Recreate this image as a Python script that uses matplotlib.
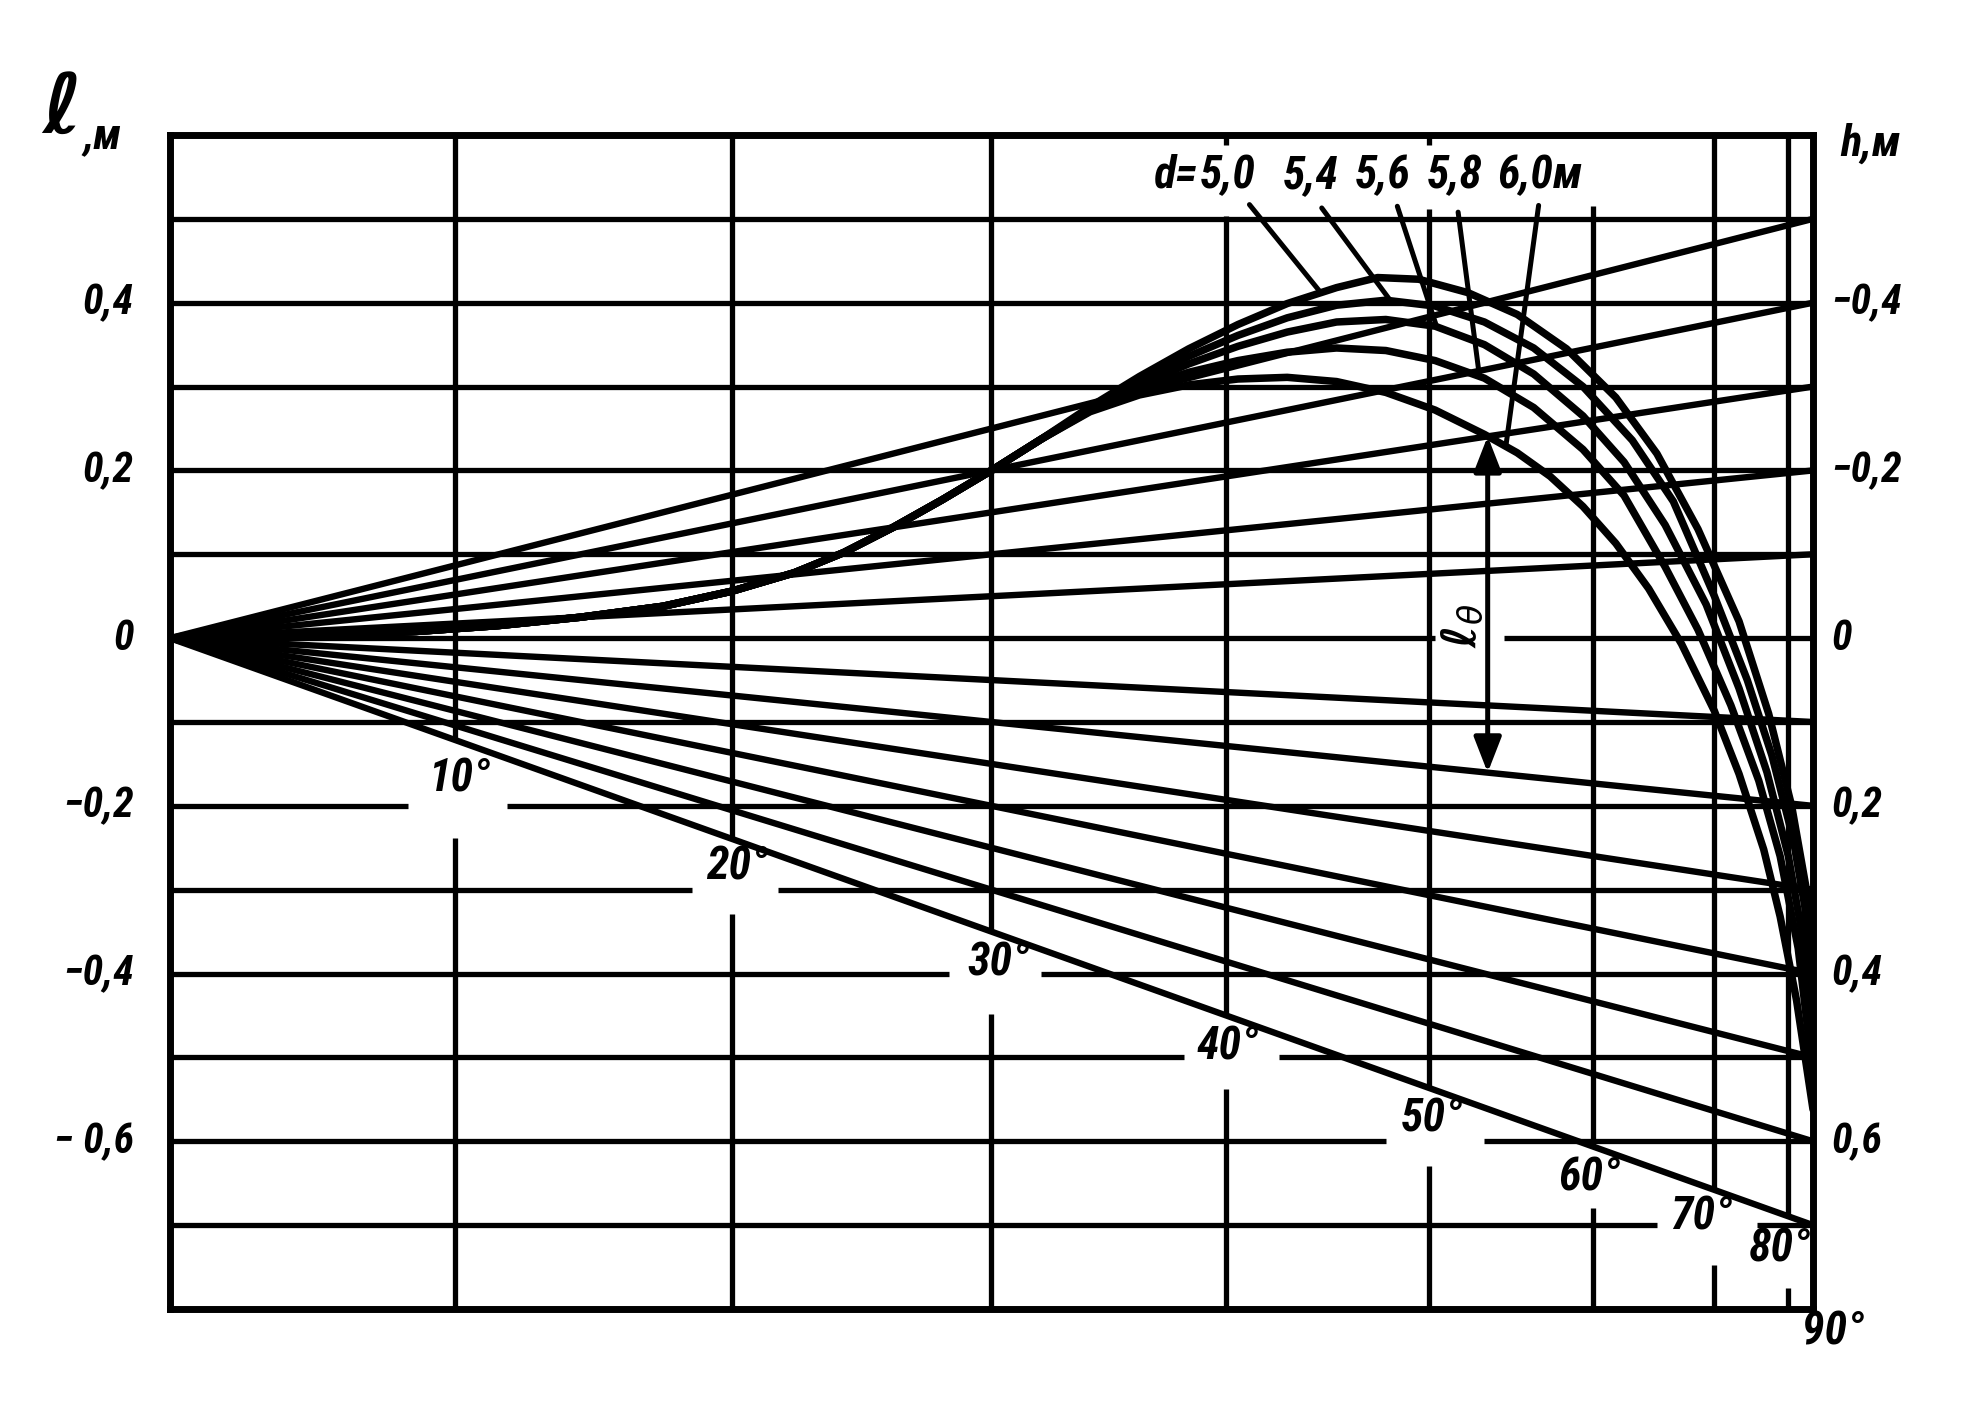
import numpy as np
import matplotlib
matplotlib.use("Agg")
import matplotlib.pyplot as plt
from matplotlib import font_manager
import matplotlib.transforms as mtransforms

# ---------------- data ----------------
# x axis is sin(theta); angle scale ticks
angle_ticks = [10, 20, 30, 40, 50, 60, 70, 80]
angle_labels = ['10°', '20°', '30°', '40°', '50°', '60°', '70°', '80°', '90°']

# left axis l, m  /  right axis h, m  (h = -l on the right edge)
l_ticks = [0.4, 0.2, 0.0, -0.2, -0.4, -0.6]
l_tick_labels = ['0,4', '0,2', '0', '−0,2', '−0,4', '− 0,6']
h_ticks = [-0.4, -0.2, 0.0, 0.2, 0.4, 0.6]
h_tick_labels = ['−0,4', '−0,2', '0', '0,2', '0,4', '0,6']
l_grid = [-0.7, -0.6, -0.5, -0.4, -0.3, -0.2, -0.1, 0.0, 0.1, 0.2, 0.3, 0.4, 0.5]

# straight rays from the origin, value of h reached at 90 deg
ray_h = [-0.5, -0.4, -0.3, -0.2, -0.1, 0.1, 0.2, 0.3, 0.4, 0.5, 0.6, 0.7]

# common rising part of all d-curves (x = sin theta, y = l)
rise_s = [0.0, 0.05, 0.10, 0.15, 0.20, 0.25, 0.30, 0.342, 0.38, 0.41, 0.44, 0.47, 0.50, 0.53]
rise_l = [0.0, 0.001, 0.004, 0.008, 0.015, 0.025, 0.038, 0.056, 0.078, 0.102, 0.132, 0.165,
          0.200, 0.237]

d_labels = ['5,0', '5,4', '5,6', '5,8', '6,0м']

s_d50 = [0.56, 0.59, 0.62, 0.65, 0.68, 0.71, 0.735, 0.76, 0.79, 0.82, 0.85, 0.88, 0.905,
         0.93, 0.955, 0.973, 0.987, 0.996, 1.0]
l_d50 = [0.276, 0.312, 0.345, 0.374, 0.399, 0.418, 0.43, 0.428, 0.412, 0.386, 0.345, 0.287, 0.22,
         0.13, 0.02, -0.09, -0.20, -0.30, -0.36]

s_d54 = [0.56, 0.59, 0.62, 0.65, 0.68, 0.71, 0.74, 0.77, 0.80, 0.83, 0.86, 0.89, 0.915,
         0.94, 0.96, 0.975, 0.988, 0.995, 1.0]
l_d54 = [0.274, 0.308, 0.336, 0.361, 0.382, 0.397, 0.403, 0.396, 0.377, 0.346, 0.30, 0.236, 0.163,
         0.05, -0.05, -0.14, -0.24, -0.32, -0.42]

s_d56 = [0.56, 0.59, 0.62, 0.65, 0.68, 0.71, 0.74, 0.77, 0.80, 0.83, 0.86, 0.885, 0.91,
         0.935, 0.955, 0.972, 0.985, 0.994, 1.0]
l_d56 = [0.272, 0.302, 0.327, 0.348, 0.365, 0.377, 0.38, 0.372, 0.35, 0.315, 0.265, 0.21, 0.135,
         0.04, -0.06, -0.16, -0.26, -0.36, -0.48]

s_d58 = [0.56, 0.59, 0.62, 0.65, 0.68, 0.71, 0.74, 0.77, 0.80, 0.83, 0.86, 0.885, 0.91,
         0.93, 0.95, 0.967, 0.98, 0.991, 1.0]
l_d58 = [0.271, 0.298, 0.317, 0.331, 0.341, 0.346, 0.343, 0.331, 0.31, 0.275, 0.225, 0.17, 0.085,
         0.01, -0.08, -0.17, -0.26, -0.37, -0.52]

s_d60 = [0.56, 0.59, 0.62, 0.65, 0.68, 0.71, 0.74, 0.77, 0.80, 0.82, 0.84, 0.86, 0.88,
         0.90, 0.92, 0.94, 0.955, 0.97, 0.98, 0.99, 1.0]
l_d60 = [0.270, 0.290, 0.302, 0.309, 0.311, 0.306, 0.293, 0.272, 0.243, 0.221, 0.193, 0.157,
         0.113, 0.059, -0.007, -0.087, -0.162, -0.252, -0.332, -0.432, -0.562]

# leader lines from the d-labels to the curves
leader_s0 = [0.657, 0.701, 0.747, 0.784, 0.833]
leader_l0 = [0.517, 0.513, 0.515, 0.508, 0.516]
leader_s1 = [0.700, 0.743, 0.771, 0.797, 0.813]
leader_l1 = [0.413, 0.402, 0.371, 0.312, 0.228]

# l_theta dimension arrow (at this sin theta, from d=6,0 curve down to the h=0,2 ray)
arrow_s = 0.802
arrow_ray_h = 0.2

# ---------------- fonts ----------------
names = {f.name for f in font_manager.fontManager.ttflist}
FAM, K, STRETCH = ['DejaVu Sans'], 0.86, 'normal'
for cand, k in [('Liberation Sans Narrow', 1.0), ('Roboto Condensed', 0.97),
                ('DejaVu Sans Condensed', 0.93)]:
    if cand in names:
        FAM, K = [cand, 'DejaVu Sans'], k
        break
else:
    if any(f.name == 'DejaVu Sans' and str(f.stretch) == 'condensed'
           for f in font_manager.fontManager.ttflist):
        STRETCH, K = 'condensed', 0.93
plt.rcParams['font.family'] = FAM
plt.rcParams['mathtext.fontset'] = 'dejavusans'
TXT = dict(style='italic', weight='bold', color='black', fontstretch=STRETCH)

# ---------------- figure ----------------
W, H = 1982, 1404
fig = plt.figure(figsize=(W / 100, H / 100), dpi=100)
fig.patch.set_facecolor('white')
ax = fig.add_axes([170 / W, 1 - 1309 / H, 1643 / W, (1309 - 135) / H])
ax.set_xlim(0, 1)
ax.set_ylim(-0.8, 0.6)
ax.set_xticks([])
ax.set_yticks([])
for sp in ax.spines.values():
    sp.set_linewidth(5)
    sp.set_color('black')

LW_GRID = 3.8
LW_RAY = 4.6
LW_CURVE = 5.4
K_LINE = dict(color='black', solid_capstyle='butt')

# gaps in grid lines around labels (layout)
h_gaps = {-0.2: [(0.145, 0.205)], -0.3: [(0.318, 0.37)], -0.4: [(0.474, 0.53)],
          -0.5: [(0.617, 0.675)], -0.6: [(0.74, 0.80)], -0.7: [(0.905, 0.966)],
          0.0: [(0.770, 0.812)]}
v_gaps = {10: [(-0.238, -0.122)], 20: [(-0.329, -0.239)], 30: [(-0.448, -0.35)],
          40: [(-0.538, -0.45), (0.503, 0.588)], 50: [(-0.63, -0.536), (0.512, 0.588)],
          60: [(-0.68, -0.606), (0.515, 0.6)], 70: [(-0.747, -0.658)], 80: [(-0.775, -0.69)]}


def segs(lo, hi, gaps):
    pts = [lo] + [v for g in sorted(gaps) for v in g] + [hi]
    return list(zip(pts[0::2], pts[1::2]))


for lv in l_grid:
    key = round(lv, 1)
    for a, b in segs(0.0, 1.0, h_gaps.get(key, [])):
        ax.plot([a, b], [lv, lv], lw=LW_GRID, **K_LINE)

for ang in angle_ticks:
    s = np.sin(np.radians(ang))
    for a, b in segs(-0.8, 0.6, v_gaps.get(ang, [])):
        ax.plot([s, s], [a, b], lw=LW_GRID, **K_LINE)

# rays
for hv in ray_h:
    ax.plot([0, 1], [0, -hv], lw=LW_RAY, color='black', solid_capstyle='round', zorder=3)

# d curves
curves = [(s_d50, l_d50), (s_d54, l_d54), (s_d56, l_d56), (s_d58, l_d58), (s_d60, l_d60)]
for cs, cl in curves:
    ax.plot(rise_s + cs, rise_l + cl, lw=LW_CURVE, color='black',
            solid_joinstyle='round', solid_capstyle='round', zorder=4)

# leaders
for s0, l0, s1, l1 in zip(leader_s0, leader_l0, leader_s1, leader_l1):
    ax.plot([s0, s1], [l0, l1], lw=3.6, color='black', solid_capstyle='round', zorder=4)

# l_theta arrow
l_top = float(np.interp(arrow_s, s_d60, l_d60))
l_bot = -arrow_ray_h * arrow_s
ax.annotate('', xy=(arrow_s, l_bot), xytext=(arrow_s, l_top),
            arrowprops=dict(arrowstyle='<|-|>,head_length=0.9,head_width=0.35',
                            lw=3.6, color='black', mutation_scale=24,
                            shrinkA=0, shrinkB=0), zorder=5)
ax.text(0.787, 0.015, r'ℓ$_\theta$', rotation=90, fontsize=34, ha='center',
        va='center', family=['DejaVu Sans'], style='italic', weight='bold', color='black')

# angle labels
angle_label_s = [0.176, 0.345, 0.504, 0.644, 0.768, 0.864, 0.932, 0.980, 1.012]
angle_label_l = [-0.168, -0.273, -0.387, -0.488, -0.574, -0.644, -0.690, -0.729, -0.828]
for txt, s, lv in zip(angle_labels, angle_label_s, angle_label_l):
    ax.text(s, lv, txt, fontsize=34 * K, ha='center', va='center', clip_on=False, **TXT)

# axis tick labels
tr_left = mtransforms.blended_transform_factory(ax.transAxes, ax.transData)
for v, t in zip(l_ticks, l_tick_labels):
    ax.text(-0.022, v, t, transform=tr_left, ha='right', va='center',
            fontsize=31 * K, **TXT)
for v, t in zip(h_ticks, h_tick_labels):
    ax.text(1.011, -v, t, transform=tr_left, ha='left', va='center',
            fontsize=31 * K, **TXT)

# axis titles
ax.text(-0.066, 0.630, 'ℓ', fontsize=60, ha='center', va='center', clip_on=False,
        family=['DejaVu Sans'], style='italic', weight='bold', color='black')
ax.text(-0.041, 0.598, ',м', fontsize=32 * K, ha='center', va='center', clip_on=False, **TXT)
ax.text(1.035, 0.590, 'h,м', fontsize=33 * K, ha='center', va='center', clip_on=False, **TXT)

# d legend
LEG = 34 * K if K >= 0.93 else 29
ax.text(0.612, 0.552, 'd=', fontsize=LEG, ha='center', va='center', **TXT)
d_label_s = [0.644, 0.694, 0.738, 0.782, 0.834]
for t, s in zip(d_labels, d_label_s):
    ax.text(s, 0.552, t, fontsize=LEG, ha='center', va='center', **TXT)

fig.savefig('out.png', dpi=100, facecolor='white')
